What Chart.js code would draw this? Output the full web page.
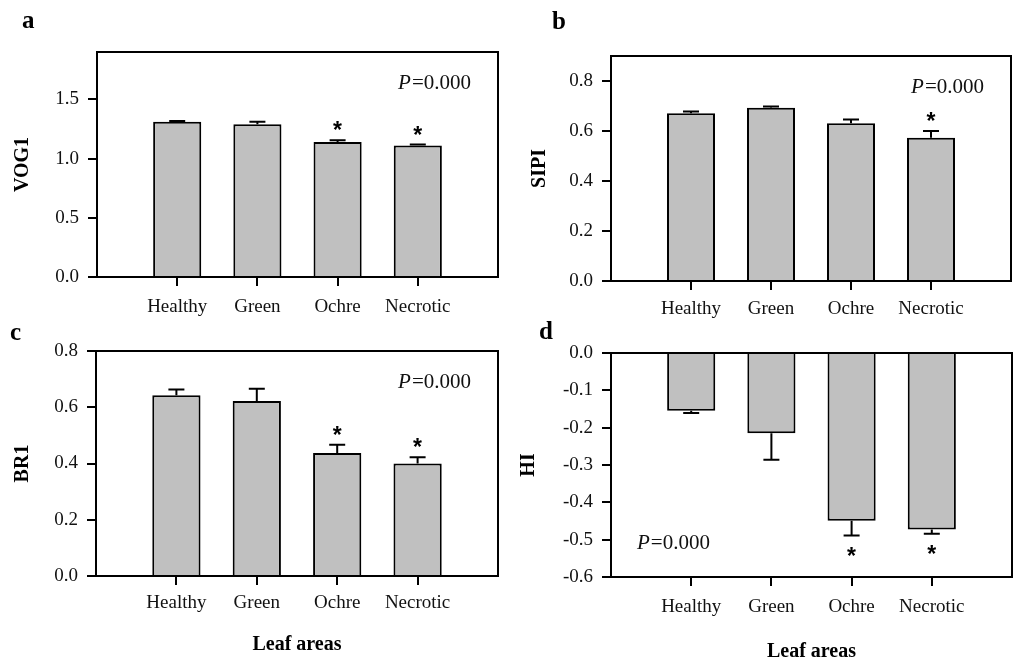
<!DOCTYPE html>
<html>
<head>
<meta charset="utf-8">
<script src="https://cdn.jsdelivr.net/npm/chart.js@4.4.1/dist/chart.umd.min.js"></script>
<style>
  html, body { margin: 0; padding: 0; background: #fff; }
  #fig { position: relative; width: 1024px; height: 670px; overflow: hidden; }
  .panel { position: absolute; width: 512px; }
  .top { top: 0; height: 320px; }
  .bottom { top: 300px; height: 370px; }
</style>
</head>
<body>
<div id="fig">
  <div class="panel top" style="left:0"><canvas id="chartA"></canvas></div>
  <div class="panel top" style="left:512px"><canvas id="chartB"></canvas></div>
  <div class="panel bottom" style="left:0"><canvas id="chartC"></canvas></div>
  <div class="panel bottom" style="left:512px"><canvas id="chartD"></canvas></div>
</div>
<script>
/* ─── Data ───────────────────────────────────────────── */
const CATEGORIES = ["Healthy", "Green", "Ochre", "Necrotic"];

const VOG1_VALUES = [1.31, 1.29, 1.14, 1.11];
const VOG1_ERRORS = [0.008, 0.02, 0.015, 0.008];
const VOG1_SIG = [false, false, true, true];
const VOG1_TICKS = [0.0, 0.5, 1.0, 1.5];

const SIPI_VALUES = [0.671, 0.693, 0.631, 0.573];
const SIPI_ERRORS = [0.007, 0.005, 0.015, 0.027];
const SIPI_SIG = [false, false, false, true];
const SIPI_TICKS = [0.0, 0.2, 0.4, 0.6, 0.8];

const BR1_VALUES = [0.643, 0.622, 0.437, 0.40];
const BR1_ERRORS = [0.02, 0.044, 0.03, 0.022];
const BR1_SIG = [false, false, true, true];
const BR1_TICKS = [0.0, 0.2, 0.4, 0.6, 0.8];

const HI_VALUES = [-0.155, -0.215, -0.449, -0.473];
const HI_ERRORS = [0.006, 0.071, 0.04, 0.011];
const HI_SIG = [false, false, true, true];
const HI_TICKS = [0.0, -0.1, -0.2, -0.3, -0.4, -0.5, -0.6];

const P_TEXT = "=0.000";
const X_TITLE = "Leaf areas";

/* ─── Styling ────────────────────────────────────────── */
const SERIF = "'Liberation Serif', 'Times New Roman', serif";
const INK = "#111";

/* ─── Overlay: frame, error bars, stars, P, letter ──── */
const overlayPlugin = {
  id: "overlay",
  afterDatasetsDraw(chart) {
    const o = chart.options.plugins.overlay;
    const ctx = chart.ctx;
    const area = chart.chartArea;
    const y = chart.scales.y;
    const meta = chart.getDatasetMeta(0);

    ctx.save();
    // error bars
    ctx.strokeStyle = "#000";
    ctx.lineWidth = 2;
    o.values.forEach((v, i) => {
      const bar = meta.data[i + 1];
      const dir = v >= 0 ? 1 : -1;
      const y0 = y.getPixelForValue(v);
      const y1 = y.getPixelForValue(v + dir * o.errors[i]);
      ctx.beginPath();
      ctx.moveTo(bar.x, y0);
      ctx.lineTo(bar.x, y1);
      ctx.moveTo(bar.x - 8, y1);
      ctx.lineTo(bar.x + 8, y1);
      ctx.stroke();

      if (o.sig[i]) {
        ctx.fillStyle = "#000";
        ctx.font = "bold 23px 'Liberation Sans', Arial, sans-serif";
        ctx.textAlign = "center";
        ctx.textBaseline = "alphabetic";
        const cy = y1 - dir * 15;
        ctx.fillText("*", bar.x, cy + 13);
      }
    });

    // box
    ctx.lineWidth = 2;
    ctx.strokeRect(area.left, area.top, area.right - area.left, area.bottom - area.top);

    // P value
    ctx.fillStyle = INK;
    ctx.textBaseline = "middle";
    ctx.textAlign = "left";
    ctx.font = "italic 21px " + SERIF;
    const pw = ctx.measureText("P").width;
    ctx.font = "21px " + SERIF;
    const rw = ctx.measureText(P_TEXT).width;
    let px, py;
    if (o.pAt === "bottom-left") {
      px = area.left + 26;
      py = area.bottom - 34;
    } else {
      px = area.right - 28 - pw - rw;
      py = area.top + 31;
    }
    ctx.font = "italic 21px " + SERIF;
    ctx.fillText("P", px, py);
    ctx.font = "21px " + SERIF;
    ctx.fillText(P_TEXT, px + pw + 1, py);

    // panel letter
    ctx.fillStyle = "#000";
    ctx.font = "bold 25px " + SERIF;
    ctx.textBaseline = "alphabetic";
    ctx.fillText(o.letter, o.letterX, o.letterY);
    ctx.restore();
  },
};

/* ─── Build one panel ────────────────────────────────── */
function makePanel(cfg) {
  const canvas = document.getElementById(cfg.id);
  const box = canvas.parentNode.getBoundingClientRect();
  const W = box.width;
  const H = box.height;

  return new Chart(canvas.getContext("2d"), {
    type: "bar",
    data: {
      labels: ["", ...CATEGORIES, ""],
      datasets: [
        {
          data: [null, ...cfg.values, null],
          backgroundColor: "#c0c0c0",
          borderColor: "#000",
          borderWidth: 2,
          barPercentage: 0.6,
          categoryPercentage: 1.0,
        },
      ],
    },
    options: {
      responsive: true,
      maintainAspectRatio: false,
      animation: false,
      events: [],
      layout: {
        padding: { left: 0, top: cfg.area.top, right: W - cfg.area.right, bottom: 0 },
      },
      plugins: {
        legend: { display: false },
        tooltip: { enabled: false },
        overlay: {
          values: cfg.values,
          errors: cfg.errors,
          sig: cfg.sig,
          pAt: cfg.pAt,
          letter: cfg.letter,
          letterX: cfg.letterX,
          letterY: cfg.letterY,
        },
      },
      scales: {
        x: {
          type: "category",
          offset: false,
          afterBuildTicks: (s) => {
            s.ticks = s.ticks.filter((t) => t.value >= 1 && t.value <= CATEGORIES.length);
          },
          afterFit: (s) => { s.height = H - cfg.area.bottom; },
          border: { color: "#000", width: 2 },
          grid: {
            offset: false,
            drawOnChartArea: false,
            drawTicks: true,
            tickLength: 9,
            color: "#000",
            lineWidth: 2,
          },
          ticks: {
            color: INK,
            font: { family: SERIF, size: 19 },
            padding: cfg.xPad,
            maxRotation: 0,
            autoSkip: false,
          },
          title: cfg.xTitle
            ? {
                display: true,
                text: X_TITLE,
                color: "#000",
                font: { family: SERIF, size: 20, weight: "bold" },
                padding: { top: 0, bottom: cfg.xTitlePad },
              }
            : { display: false },
        },
        y: {
          min: cfg.min,
          max: cfg.max,
          afterBuildTicks: (s) => {
            s.ticks = cfg.ticks.map((v) => ({ value: v }));
          },
          afterFit: (s) => { s.width = cfg.area.left; },
          border: { color: "#000", width: 2 },
          grid: { drawOnChartArea: false, drawTicks: true, tickLength: 9, color: "#000", lineWidth: 2 },
          ticks: {
            color: INK,
            font: { family: SERIF, size: 19 },
            padding: 9,
            callback: (v) => Number(v).toFixed(1),
          },
          title: {
            display: true,
            text: cfg.yTitle,
            color: "#000",
            font: { family: SERIF, size: 20, weight: "bold" },
            padding: { top: cfg.yTitlePad, bottom: 0 },
          },
        },
      },
    },
    plugins: [overlayPlugin],
  });
}

/* ─── Init ───────────────────────────────────────────── */
makePanel({
  id: "chartA", yTitle: "VOG1", values: VOG1_VALUES, errors: VOG1_ERRORS, sig: VOG1_SIG,
  ticks: VOG1_TICKS, min: 0, max: 1.9,
  area: { left: 97, top: 52, right: 498, bottom: 277 },
  xPad: 10, yTitlePad: 11, xTitle: false, pAt: "top-right",
  letter: "a", letterX: 22, letterY: 28,
});
makePanel({
  id: "chartB", yTitle: "SIPI", values: SIPI_VALUES, errors: SIPI_ERRORS, sig: SIPI_SIG,
  ticks: SIPI_TICKS, min: 0, max: 0.9,
  area: { left: 99, top: 56, right: 499, bottom: 281 },
  xPad: 8, yTitlePad: 16, xTitle: false, pAt: "top-right",
  letter: "b", letterX: 40, letterY: 29,
});
makePanel({
  id: "chartC", yTitle: "BR1", values: BR1_VALUES, errors: BR1_ERRORS, sig: BR1_SIG,
  ticks: BR1_TICKS, min: 0, max: 0.8,
  area: { left: 96, top: 51, right: 498, bottom: 276 },
  xPad: 7, yTitlePad: 11, xTitle: true, xTitlePad: 13, pAt: "top-right",
  letter: "c", letterX: 10, letterY: 40,
});
makePanel({
  id: "chartD", yTitle: "HI", values: HI_VALUES, errors: HI_ERRORS, sig: HI_SIG,
  ticks: HI_TICKS, min: -0.6, max: 0,
  area: { left: 99, top: 53, right: 500, bottom: 277 },
  xPad: 10, yTitlePad: 5, xTitle: true, xTitlePad: 6, pAt: "bottom-left",
  letter: "d", letterX: 27, letterY: 39,
});
</script>
</body>
</html>
